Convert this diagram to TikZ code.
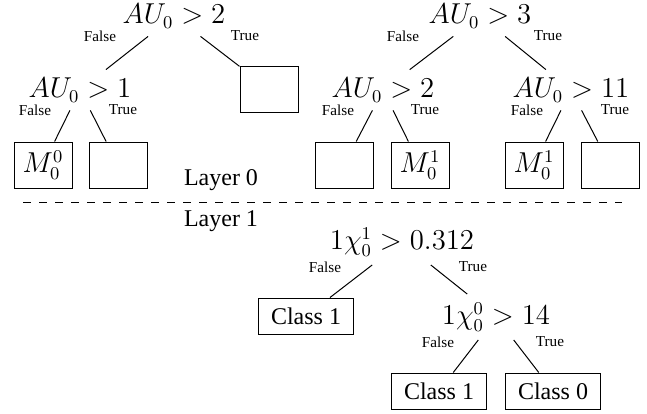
\documentclass[tikz,border=0pt]{standalone}
\usepackage{fontspec}
\setmainfont{Liberation Serif}
\usetikzlibrary{positioning}
\tikzset{
  cond/.style={font=\fontsize{13.5}{16}\selectfont, inner sep=4pt},
  lbl/.style={font=\fontsize{7.6}{9}\selectfont, inner sep=0pt},
  leaf/.style={draw, line width=0.5pt, minimum width=29pt, minimum height=23pt, inner sep=0pt, font=\fontsize{13.5}{16}\selectfont},
  cls/.style={draw, line width=0.5pt, minimum width=47.5pt, minimum height=18pt, inner sep=0pt, font=\fontsize{12}{14}\selectfont},
  edge/.style={line width=0.5pt},
}
\begin{document}
\begin{tikzpicture}[x=0.5pt,y=-0.5pt]
  \useasboundingbox (0,0) rectangle (647,413);
  % layer 0, first tree
  \node[cond] (a) at (174,16) {$AU_0 > 2$};
  \node[cond] (b) at (80,90) {$AU_0 > 1$};
  \node[leaf] (c) at (269,89) {};
  \node[leaf] (d) at (43,165) {$M_0^0$};
  \node[leaf] (e) at (118,165) {};
  \draw[edge] (a) -- (b);
  \draw[edge] (a) -- (c);
  \draw[edge] (b) -- (d);
  \draw[edge] (b) -- (e);
  \node[lbl] (af) at (100,36) {False};
  \node[lbl] (at) at (245,36) {True};
  \node[lbl] (bf) at (35,110) {False};
  \node[lbl] (bt) at (123,110) {True};
  % layer 0, second tree
  \node[cond] (g) at (480,16) {$AU_0 > 3$};
  \node[cond] (h) at (383,90) {$AU_0 > 2$};
  \node[cond] (k) at (571,90) {$AU_0 > 11$};
  \node[leaf] (h1) at (344,165) {};
  \node[leaf] (h2) at (420,165) {$M_0^1$};
  \node[leaf] (k1) at (534,165) {$M_0^1$};
  \node[leaf] (k2) at (610,165) {};
  \draw[edge] (g) -- (h);
  \draw[edge] (g) -- (k);
  \draw[edge] (h) -- (h1);
  \draw[edge] (h) -- (h2);
  \draw[edge] (k) -- (k1);
  \draw[edge] (k) -- (k2);
  \node[lbl] (gf) at (403,36) {False};
  \node[lbl] (gt) at (548,36) {True};
  \node[lbl] (hf) at (338,110) {False};
  \node[lbl] (ht) at (425,110) {True};
  \node[lbl] (kf) at (527,110) {False};
  \node[lbl] (kt) at (615,110) {True};
  % layers
  \node[font=\fontsize{12}{14}\selectfont, inner sep=0pt] (l0) at (221,180) {Layer 0};
  \node[font=\fontsize{12}{14}\selectfont, inner sep=0pt] (l1) at (221,221) {Layer 1};
  \draw[edge, dash pattern=on 4pt off 4pt] (23,202) -- (622,202);
  % layer 1 tree
  \node[cond] (p) at (402,242) {$1\chi_0^1 > 0.312$};
  \node[cls] (p1) at (306,316) {Class 1};
  \node[cond] (q) at (496,317) {$1\chi_0^0 > 14$};
  \node[cls] (q1) at (439,391) {Class 1};
  \node[cls] (q2) at (553,391) {Class 0};
  \draw[edge] (p) -- (p1);
  \draw[edge] (p) -- (q);
  \draw[edge] (q) -- (q1);
  \draw[edge] (q) -- (q2);
  \node[lbl] (pf) at (325,267) {False};
  \node[lbl] (pt) at (473,267) {True};
  \node[lbl] (qf) at (438,342) {False};
  \node[lbl] (qt) at (550,342) {True};
\end{tikzpicture}
\end{document}
